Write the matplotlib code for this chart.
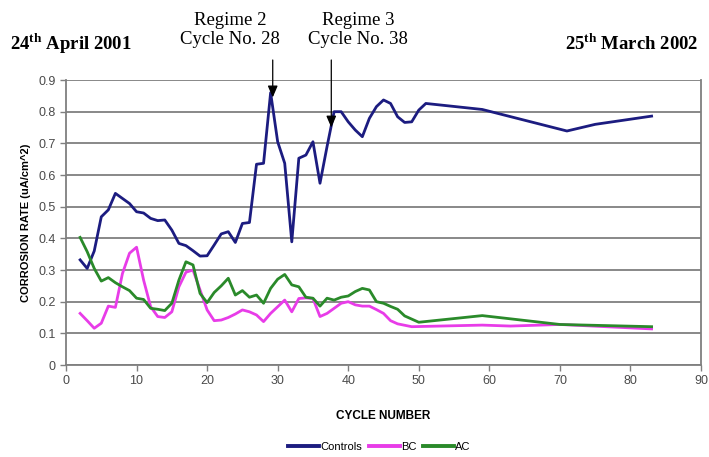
import matplotlib
matplotlib.use('Agg')
import matplotlib.pyplot as plt

# cycle number / corrosion rate
controls_x = list(range(2, 52)) + [59, 71, 75, 83]
controls_y = [0.332, 0.305, 0.36, 0.468, 0.49, 0.542, 0.526, 0.51, 0.484, 0.48,
              0.463, 0.456, 0.458, 0.426, 0.384, 0.377, 0.361, 0.344, 0.345, 0.379,
              0.414, 0.421, 0.387, 0.447, 0.45, 0.634, 0.637, 0.86, 0.705, 0.637,
              0.389, 0.653, 0.663, 0.705, 0.574, 0.69, 0.8, 0.8, 0.768, 0.742,
              0.721, 0.779, 0.816, 0.837, 0.826, 0.784, 0.766, 0.768, 0.805, 0.826,
              0.807, 0.739, 0.76, 0.786]

bc_x = list(range(2, 48)) + [49, 59, 63, 70, 83]
bc_y = [0.163, 0.14, 0.116, 0.132, 0.186, 0.182, 0.289, 0.353, 0.372, 0.268,
        0.184, 0.153, 0.15, 0.168, 0.247, 0.293, 0.3, 0.237, 0.174, 0.14,
        0.142, 0.15, 0.161, 0.174, 0.168, 0.158, 0.137, 0.163, 0.184, 0.205,
        0.168, 0.21, 0.212, 0.21, 0.153, 0.163, 0.179, 0.195, 0.2, 0.19,
        0.186, 0.186, 0.175, 0.163, 0.14, 0.13,
        0.121, 0.126, 0.123, 0.128, 0.114]

ac_x = list(range(2, 49)) + [50, 59, 70, 83]
ac_y = [0.403, 0.358, 0.305, 0.265, 0.276, 0.26, 0.247, 0.235, 0.211, 0.207,
        0.179, 0.176, 0.172, 0.195, 0.268, 0.326, 0.316, 0.226, 0.197, 0.229,
        0.25, 0.274, 0.221, 0.235, 0.214, 0.221, 0.195, 0.242, 0.271, 0.286,
        0.253, 0.247, 0.214, 0.211, 0.186, 0.211, 0.205, 0.214, 0.218, 0.232,
        0.242, 0.237, 0.2, 0.195, 0.185, 0.176, 0.155,
        0.135, 0.156, 0.128, 0.121]

x_ticks = list(range(0, 91, 10))
y_ticks = [round(0.1 * i, 1) for i in range(10)]

# regime arrows: cycle position and arrow tip value
arrow_x = [29.3, 37.6]
arrow_tip = [0.845, 0.75]
regime_labels = ['Regime 2\nCycle No. 28', 'Regime 3\nCycle No. 38']

plt.rcParams['font.family'] = ['Liberation Sans', 'DejaVu Sans']
plt.rcParams['mathtext.fontset'] = 'custom'
plt.rcParams['mathtext.rm'] = 'Liberation Serif'
plt.rcParams['mathtext.bf'] = 'Liberation Serif:bold'

fig = plt.figure(figsize=(7.09, 4.57), dpi=100)
ax = fig.add_axes([0.0931, 0.2013, 0.8956, 0.6236])

ax.plot(controls_x, controls_y, color='#1c1c80', lw=2.0, label='Controls')
ax.plot(bc_x, bc_y, color='#e83ce8', lw=2.0, label='BC')
ax.plot(ac_x, ac_y, color='#2a8a2a', lw=2.0, label='AC')

ax.set_xlim(0, 90)
ax.set_ylim(0, 0.9)
ax.set_xticks(x_ticks)
ax.set_yticks(y_ticks)
ax.set_yticklabels(['0' if v == 0 else f'{v:.1f}' for v in y_ticks])
ax.yaxis.grid(True, color='#7f7f7f', lw=1.3)
ax.set_axisbelow(True)
ax.spines['top'].set_visible(False)
for side in ['left', 'right', 'bottom']:
    ax.spines[side].set_color('#7f7f7f')
    ax.spines[side].set_linewidth(1.3)
ax.tick_params(axis='both', colors='#7f7f7f', labelcolor='#4a4a4a',
               labelsize=9, length=4, width=1)

ax.set_xlabel('CYCLE NUMBER', fontsize=8.5, fontweight='bold', labelpad=16)
ax.set_ylabel('CORROSION RATE (uA/cm^2)', fontsize=8, fontweight='bold', labelpad=5)

for xa, tip in zip(arrow_x, arrow_tip):
    ax.annotate('', xy=(xa, tip), xycoords='data',
                xytext=(xa, 1 - 60 / 457), textcoords=('data', 'figure fraction'),
                arrowprops=dict(arrowstyle='-|>,head_width=0.3,head_length=0.7',
                                color='black', lw=0.9, shrinkA=0, shrinkB=0),
                annotation_clip=False)

fig.text(230 / 709, 1 - 30 / 457, regime_labels[0], ha='center', va='center',
         family='Liberation Serif', fontsize=13.5, linespacing=1.15)
fig.text(358 / 709, 1 - 30 / 457, regime_labels[1], ha='center', va='center',
         family='Liberation Serif', fontsize=13.5, linespacing=1.15)
fig.text(10 / 709, 1 - 44 / 457, r'24$^{\mathbf{th}}$ April 2001', ha='left', va='center',
         family='Liberation Serif', fontweight='bold', fontsize=13.5)
fig.text(698 / 709, 1 - 44 / 457, r'25$^{\mathbf{th}}$ March 2002', ha='right', va='center',
         family='Liberation Serif', fontweight='bold', fontsize=13.5)

leg = fig.legend(loc='center', bbox_to_anchor=(0.535, 1 - 447 / 457), ncol=3, frameon=False,
                 fontsize=8, handlelength=2.8, handletextpad=0.1, columnspacing=0.6)
for line in leg.get_lines():
    line.set_linewidth(2.8)

fig.savefig('out.png', dpi=100)
